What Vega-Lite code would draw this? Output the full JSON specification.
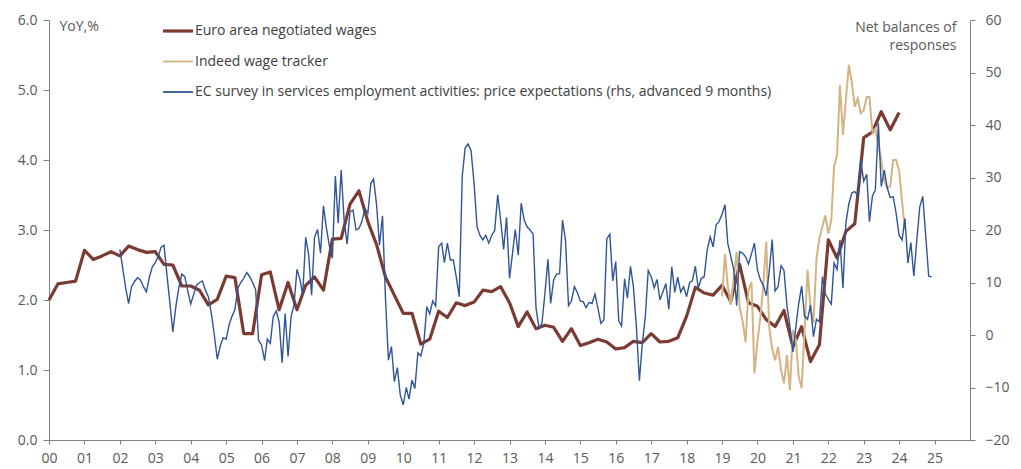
{
"$schema":"https://vega.github.io/schema/vega-lite/v6.json",
"width":921,"height":420,
"autosize":{"type":"none"},
"padding":{"left":49,"top":20,"right":51,"bottom":29},
"config":{"font":"Open Sans","view":{"stroke":null},
 "axis":{"grid":false,"domainColor":"#808080","tickColor":"#808080","labelColor":"#595959","labelFontSize":14,"titleColor":"#595959","titleFontSize":14,"titleFontWeight":"normal","labelFont":"Open Sans","titleFont":"Open Sans"}},
"datasets":{
"nw":[
{"d":"2000-01","v":2.0},{"d":"2000-04","v":2.23},{"d":"2000-07","v":2.25},{"d":"2000-10","v":2.27},
{"d":"2001-01","v":2.71},{"d":"2001-04","v":2.58},{"d":"2001-07","v":2.63},{"d":"2001-10","v":2.69},
{"d":"2002-01","v":2.63},{"d":"2002-04","v":2.77},{"d":"2002-07","v":2.72},{"d":"2002-10","v":2.68},
{"d":"2003-01","v":2.69},{"d":"2003-04","v":2.51},{"d":"2003-07","v":2.50},{"d":"2003-10","v":2.20},
{"d":"2004-01","v":2.20},{"d":"2004-04","v":2.14},{"d":"2004-07","v":1.93},{"d":"2004-10","v":2.01},
{"d":"2005-01","v":2.34},{"d":"2005-04","v":2.32},{"d":"2005-07","v":1.52},{"d":"2005-10","v":1.52},
{"d":"2006-01","v":2.36},{"d":"2006-04","v":2.40},{"d":"2006-07","v":1.86},{"d":"2006-10","v":2.25},
{"d":"2007-01","v":1.86},{"d":"2007-04","v":2.21},{"d":"2007-07","v":2.33},{"d":"2007-10","v":2.14},
{"d":"2008-01","v":2.87},{"d":"2008-04","v":2.88},{"d":"2008-07","v":3.37},{"d":"2008-10","v":3.56},
{"d":"2009-01","v":3.12},{"d":"2009-04","v":2.79},{"d":"2009-07","v":2.33},{"d":"2009-10","v":2.07},
{"d":"2010-01","v":1.81},{"d":"2010-04","v":1.81},{"d":"2010-07","v":1.37},{"d":"2010-10","v":1.44},
{"d":"2011-01","v":1.84},{"d":"2011-04","v":1.75},{"d":"2011-07","v":1.96},{"d":"2011-10","v":1.92},
{"d":"2012-01","v":1.97},{"d":"2012-04","v":2.14},{"d":"2012-07","v":2.12},{"d":"2012-10","v":2.19},
{"d":"2013-01","v":1.96},{"d":"2013-04","v":1.62},{"d":"2013-07","v":1.83},{"d":"2013-10","v":1.59},
{"d":"2014-01","v":1.64},{"d":"2014-04","v":1.61},{"d":"2014-07","v":1.41},{"d":"2014-10","v":1.59},
{"d":"2015-01","v":1.35},{"d":"2015-04","v":1.39},{"d":"2015-07","v":1.44},{"d":"2015-10","v":1.40},
{"d":"2016-01","v":1.30},{"d":"2016-04","v":1.32},{"d":"2016-07","v":1.41},{"d":"2016-10","v":1.39},
{"d":"2017-01","v":1.52},{"d":"2017-04","v":1.40},{"d":"2017-07","v":1.41},{"d":"2017-10","v":1.46},
{"d":"2018-01","v":1.77},{"d":"2018-04","v":2.18},{"d":"2018-07","v":2.10},{"d":"2018-10","v":2.07},
{"d":"2019-01","v":2.21},{"d":"2019-04","v":1.98},{"d":"2019-07","v":2.51},{"d":"2019-10","v":1.96},
{"d":"2020-01","v":1.91},{"d":"2020-04","v":1.72},{"d":"2020-07","v":1.62},{"d":"2020-10","v":1.85},
{"d":"2021-01","v":1.33},{"d":"2021-04","v":1.62},{"d":"2021-07","v":1.12},{"d":"2021-10","v":1.36},
{"d":"2022-01","v":2.86},{"d":"2022-04","v":2.60},{"d":"2022-07","v":2.98},{"d":"2022-10","v":3.09},
{"d":"2023-01","v":4.32},{"d":"2023-04","v":4.40},{"d":"2023-07","v":4.69},{"d":"2023-10","v":4.43},
{"d":"2024-01","v":4.68}
],
"indeed":[
{"d":"2019-01","v":2.05},{"d":"2019-02","v":2.66},{"d":"2019-03","v":2.2},{"d":"2019-04","v":1.93},{"d":"2019-05","v":2.3},{"d":"2019-06","v":2.69},{"d":"2019-07","v":1.9},{"d":"2019-08","v":1.7},{"d":"2019-09","v":1.4},{"d":"2019-10","v":2.14},{"d":"2019-11","v":2.26},{"d":"2019-12","v":0.95},
{"d":"2020-01","v":1.4},{"d":"2020-02","v":1.76},{"d":"2020-03","v":2.2},{"d":"2020-04","v":2.83},{"d":"2020-05","v":1.62},{"d":"2020-06","v":1.3},{"d":"2020-07","v":1.14},{"d":"2020-08","v":1.33},{"d":"2020-09","v":1.0},{"d":"2020-10","v":0.81},{"d":"2020-11","v":1.21},{"d":"2020-12","v":0.71},
{"d":"2021-01","v":1.57},{"d":"2021-02","v":1.43},{"d":"2021-03","v":0.91},{"d":"2021-04","v":0.74},{"d":"2021-05","v":1.57},{"d":"2021-06","v":2.43},{"d":"2021-07","v":1.9},{"d":"2021-08","v":1.67},{"d":"2021-09","v":2.6},{"d":"2021-10","v":2.88},{"d":"2021-11","v":3.05},{"d":"2021-12","v":3.21},
{"d":"2022-01","v":2.95},{"d":"2022-02","v":3.14},{"d":"2022-03","v":3.9},{"d":"2022-04","v":4.07},{"d":"2022-05","v":5.07},{"d":"2022-06","v":4.36},{"d":"2022-07","v":4.86},{"d":"2022-08","v":5.36},{"d":"2022-09","v":5.1},{"d":"2022-10","v":4.76},{"d":"2022-11","v":4.88},{"d":"2022-12","v":4.67},
{"d":"2023-01","v":4.71},{"d":"2023-02","v":4.9},{"d":"2023-03","v":4.9},{"d":"2023-04","v":4.4},{"d":"2023-05","v":4.45},{"d":"2023-06","v":4.2},{"d":"2023-07","v":4.0},{"d":"2023-08","v":3.7},{"d":"2023-09","v":3.6},{"d":"2023-10","v":3.62},{"d":"2023-11","v":4.0},{"d":"2023-12","v":4.0},
{"d":"2024-01","v":3.85},{"d":"2024-02","v":3.4},{"d":"2024-03","v":3.0}
],
"ec":[
{"d":"2002-01","r":16.3},{"d":"2002-02","r":12.5},{"d":"2002-03","r":9.0},{"d":"2002-04","r":6.0},{"d":"2002-05","r":9.2},{"d":"2002-06","r":10.2},{"d":"2002-07","r":10.9},{"d":"2002-08","r":10.5},{"d":"2002-09","r":9.2},{"d":"2002-10","r":8.2},{"d":"2002-11","r":11.0},{"d":"2002-12","r":13.0},
{"d":"2003-01","r":13.8},{"d":"2003-02","r":15.0},{"d":"2003-03","r":16.7},{"d":"2003-04","r":17.1},{"d":"2003-05","r":11.5},{"d":"2003-06","r":6.0},{"d":"2003-07","r":0.6},{"d":"2003-08","r":5.4},{"d":"2003-09","r":9.0},{"d":"2003-10","r":11.6},{"d":"2003-11","r":11.1},{"d":"2003-12","r":8.5},
{"d":"2004-01","r":5.9},{"d":"2004-02","r":7.7},{"d":"2004-03","r":9.5},{"d":"2004-04","r":10.0},{"d":"2004-05","r":10.3},{"d":"2004-06","r":8.5},{"d":"2004-07","r":7.3},{"d":"2004-08","r":4.1},{"d":"2004-09","r":0.0},{"d":"2004-10","r":-4.6},{"d":"2004-11","r":-2.1},{"d":"2004-12","r":-0.5},
{"d":"2005-01","r":-0.8},{"d":"2005-02","r":2.0},{"d":"2005-03","r":3.5},{"d":"2005-04","r":4.8},{"d":"2005-05","r":8.9},{"d":"2005-06","r":10.0},{"d":"2005-07","r":10.8},{"d":"2005-08","r":11.9},{"d":"2005-09","r":11.1},{"d":"2005-10","r":10.0},{"d":"2005-11","r":8.6},{"d":"2005-12","r":-1.0},
{"d":"2006-01","r":-1.9},{"d":"2006-02","r":-4.9},{"d":"2006-03","r":-0.8},{"d":"2006-04","r":-1.6},{"d":"2006-05","r":3.5},{"d":"2006-06","r":4.6},{"d":"2006-07","r":2.5},{"d":"2006-08","r":-5.3},{"d":"2006-09","r":4.1},{"d":"2006-10","r":-4.1},{"d":"2006-11","r":3.5},{"d":"2006-12","r":5.7},
{"d":"2007-01","r":12.5},{"d":"2007-02","r":10.6},{"d":"2007-03","r":7.6},{"d":"2007-04","r":18.6},{"d":"2007-05","r":15.4},{"d":"2007-06","r":7.6},{"d":"2007-07","r":18.6},{"d":"2007-08","r":20.1},{"d":"2007-09","r":15.6},{"d":"2007-10","r":24.6},{"d":"2007-11","r":20.3},{"d":"2007-12","r":17.0},
{"d":"2008-01","r":14.6},{"d":"2008-02","r":30.3},{"d":"2008-03","r":21.3},{"d":"2008-04","r":31.4},{"d":"2008-05","r":21.9},{"d":"2008-06","r":17.3},{"d":"2008-07","r":23.5},{"d":"2008-08","r":23.8},{"d":"2008-09","r":20.0},{"d":"2008-10","r":20.3},{"d":"2008-11","r":21.6},{"d":"2008-12","r":24.1},
{"d":"2009-01","r":23.2},{"d":"2009-02","r":28.9},{"d":"2009-03","r":29.7},{"d":"2009-04","r":24.8},{"d":"2009-05","r":17.1},{"d":"2009-06","r":22.7},{"d":"2009-07","r":7.3},{"d":"2009-08","r":-4.8},{"d":"2009-09","r":-2.2},{"d":"2009-10","r":-8.9},{"d":"2009-11","r":-6.2},{"d":"2009-12","r":-11.4},
{"d":"2010-01","r":-13.3},{"d":"2010-02","r":-10.0},{"d":"2010-03","r":-12.2},{"d":"2010-04","r":-8.6},{"d":"2010-05","r":-10.2},{"d":"2010-06","r":-3.4},{"d":"2010-07","r":-4.0},{"d":"2010-08","r":-1.6},{"d":"2010-09","r":5.4},{"d":"2010-10","r":4.0},{"d":"2010-11","r":6.5},{"d":"2010-12","r":5.5},
{"d":"2011-01","r":16.8},{"d":"2011-02","r":17.5},{"d":"2011-03","r":13.8},{"d":"2011-04","r":17.5},{"d":"2011-05","r":14.3},{"d":"2011-06","r":14.3},{"d":"2011-07","r":11.1},{"d":"2011-08","r":7.3},{"d":"2011-09","r":30.2},{"d":"2011-10","r":35.6},{"d":"2011-11","r":36.4},{"d":"2011-12","r":35.1},
{"d":"2012-01","r":28.9},{"d":"2012-02","r":20.6},{"d":"2012-03","r":19.0},{"d":"2012-04","r":18.1},{"d":"2012-05","r":19.0},{"d":"2012-06","r":17.5},{"d":"2012-07","r":19.0},{"d":"2012-08","r":19.9},{"d":"2012-09","r":26.7},{"d":"2012-10","r":21.9},{"d":"2012-11","r":16.3},{"d":"2012-12","r":22.4},
{"d":"2013-01","r":10.8},{"d":"2013-02","r":15.6},{"d":"2013-03","r":20.1},{"d":"2013-04","r":15.2},{"d":"2013-05","r":25.1},{"d":"2013-06","r":21.9},{"d":"2013-07","r":20.6},{"d":"2013-08","r":20.0},{"d":"2013-09","r":19.2},{"d":"2013-10","r":5.1},{"d":"2013-11","r":1.3},{"d":"2013-12","r":2.2},
{"d":"2014-01","r":8.0},{"d":"2014-02","r":14.4},{"d":"2014-03","r":6.0},{"d":"2014-04","r":10.5},{"d":"2014-05","r":11.6},{"d":"2014-06","r":11.7},{"d":"2014-07","r":21.9},{"d":"2014-08","r":18.1},{"d":"2014-09","r":5.6},{"d":"2014-10","r":6.5},{"d":"2014-11","r":9.2},{"d":"2014-12","r":8.1},
{"d":"2015-01","r":6.5},{"d":"2015-02","r":6.3},{"d":"2015-03","r":5.2},{"d":"2015-04","r":6.2},{"d":"2015-05","r":6.0},{"d":"2015-06","r":7.8},{"d":"2015-07","r":5.1},{"d":"2015-08","r":2.2},{"d":"2015-09","r":2.9},{"d":"2015-10","r":18.3},{"d":"2015-11","r":19.2},{"d":"2015-12","r":10.3},
{"d":"2016-01","r":14.0},{"d":"2016-02","r":2.7},{"d":"2016-03","r":1.7},{"d":"2016-04","r":10.7},{"d":"2016-05","r":7.0},{"d":"2016-06","r":13.1},{"d":"2016-07","r":9.2},{"d":"2016-08","r":1.6},{"d":"2016-09","r":-8.7},{"d":"2016-10","r":-1.6},{"d":"2016-11","r":3.5},{"d":"2016-12","r":12.3},
{"d":"2017-01","r":11.1},{"d":"2017-02","r":9.0},{"d":"2017-03","r":10.6},{"d":"2017-04","r":6.7},{"d":"2017-05","r":8.2},{"d":"2017-06","r":9.8},{"d":"2017-07","r":4.9},{"d":"2017-08","r":13.0},{"d":"2017-09","r":8.1},{"d":"2017-10","r":11.0},{"d":"2017-11","r":8.2},{"d":"2017-12","r":9.2},
{"d":"2018-01","r":7.3},{"d":"2018-02","r":10.0},{"d":"2018-03","r":10.3},{"d":"2018-04","r":13.1},{"d":"2018-05","r":8.9},{"d":"2018-06","r":10.8},{"d":"2018-07","r":11.1},{"d":"2018-08","r":16.2},{"d":"2018-09","r":18.7},{"d":"2018-10","r":16.8},{"d":"2018-11","r":21.0},{"d":"2018-12","r":21.6},
{"d":"2019-01","r":23.0},{"d":"2019-02","r":24.8},{"d":"2019-03","r":17.5},{"d":"2019-04","r":15.0},{"d":"2019-05","r":12.5},{"d":"2019-06","r":5.6},{"d":"2019-07","r":15.9},{"d":"2019-08","r":15.6},{"d":"2019-09","r":14.9},{"d":"2019-10","r":13.5},{"d":"2019-11","r":15.5},{"d":"2019-12","r":17.5},
{"d":"2020-01","r":12.4},{"d":"2020-02","r":10.5},{"d":"2020-03","r":9.5},{"d":"2020-04","r":7.5},{"d":"2020-05","r":12.0},{"d":"2020-06","r":18.2},{"d":"2020-07","r":8.4},{"d":"2020-08","r":9.2},{"d":"2020-09","r":13.2},{"d":"2020-10","r":12.3},{"d":"2020-11","r":5.5},{"d":"2020-12","r":1.7},
{"d":"2021-01","r":-3.2},{"d":"2021-02","r":1.6},{"d":"2021-03","r":5.9},{"d":"2021-04","r":9.3},{"d":"2021-05","r":3.6},{"d":"2021-06","r":3.0},{"d":"2021-07","r":5.7},{"d":"2021-08","r":-0.3},{"d":"2021-09","r":3.0},{"d":"2021-10","r":2.5},{"d":"2021-11","r":11.1},{"d":"2021-12","r":7.8},
{"d":"2022-01","r":6.8},{"d":"2022-02","r":5.9},{"d":"2022-03","r":13.7},{"d":"2022-04","r":12.5},{"d":"2022-05","r":18.1},{"d":"2022-06","r":8.9},{"d":"2022-07","r":21.3},{"d":"2022-08","r":25.0},{"d":"2022-09","r":27.1},{"d":"2022-10","r":27.3},{"d":"2022-11","r":26.5},{"d":"2022-12","r":33.3},
{"d":"2023-01","r":29.3},{"d":"2023-02","r":30.6},{"d":"2023-03","r":21.6},{"d":"2023-04","r":26.5},{"d":"2023-05","r":27.6},{"d":"2023-06","r":40.3},{"d":"2023-07","r":28.3},{"d":"2023-08","r":31.4},{"d":"2023-09","r":28.0},{"d":"2023-10","r":26.2},{"d":"2023-11","r":26.3},{"d":"2023-12","r":23.2},
{"d":"2024-01","r":19.0},{"d":"2024-02","r":18.1},{"d":"2024-03","r":22.2},{"d":"2024-04","r":13.7},{"d":"2024-05","r":17.6},{"d":"2024-06","r":11.2},{"d":"2024-07","r":18.0},{"d":"2024-08","r":24.4},{"d":"2024-09","r":26.4},{"d":"2024-10","r":19.0},{"d":"2024-11","r":11.2},{"d":"2024-12","r":11.1}
]
},
"encoding":{
 "x":{"field":"d","type":"temporal",
  "scale":{"type":"utc","domain":[{"year":2000,"month":1,"date":1,"utc":true},{"year":2026,"month":1,"date":1,"utc":true}]},
  "axis":{"title":null,"labelExpr":"utcFormat(datum.value, '%y')","tickSize":4,"labelPadding":7,"labelFlush":false,"labelOverlap":false,
   "values":[{"year":2000,"utc":true},{"year":2001,"utc":true},{"year":2002,"utc":true},{"year":2003,"utc":true},{"year":2004,"utc":true},{"year":2005,"utc":true},{"year":2006,"utc":true},{"year":2007,"utc":true},{"year":2008,"utc":true},{"year":2009,"utc":true},{"year":2010,"utc":true},{"year":2011,"utc":true},{"year":2012,"utc":true},{"year":2013,"utc":true},{"year":2014,"utc":true},{"year":2015,"utc":true},{"year":2016,"utc":true},{"year":2017,"utc":true},{"year":2018,"utc":true},{"year":2019,"utc":true},{"year":2020,"utc":true},{"year":2021,"utc":true},{"year":2022,"utc":true},{"year":2023,"utc":true},{"year":2024,"utc":true},{"year":2025,"utc":true}]}}
},
"layer":[
 {"layer":[
  {"data":{"name":"nw"},"mark":{"type":"line","strokeWidth":3.2,"strokeJoin":"round"},
   "encoding":{
    "y":{"field":"v","type":"quantitative","scale":{"domain":[0,6]},
     "axis":{"values":[0,1,2,3,4,5,6],"format":".1f","tickSize":6,"labelPadding":6,"title":"YoY,%","titleAngle":0,"titleAlign":"left","titleBaseline":"alphabetic","titleX":10,"titleY":10}},
    "color":{"datum":"Euro area negotiated wages","type":"nominal",
     "scale":{"domain":["Euro area negotiated wages","Indeed wage tracker","EC survey in services employment activities: price expectations (rhs, advanced 9 months)"],"range":["#7B3B32","#D4B483","#2F5597"]},
     "legend":{"title":null,"orient":"none","legendX":122,"legendY":4,"padding":0,"symbolType":"stroke","symbolSize":900,"symbolStrokeWidth":2,"labelFontSize":14,"labelColor":"#404040","labelOffset":10,"rowPadding":16.5,"labelLimit":800,
      "encode":{"symbols":{"update":{"strokeWidth":{"signal":"datum.value === 'Euro area negotiated wages' ? 3.2 : 1.8"}}}}}}}},
  {"data":{"name":"indeed"},"mark":{"type":"line","strokeWidth":2},
   "encoding":{"y":{"field":"v","type":"quantitative"},"color":{"datum":"Indeed wage tracker","type":"nominal"}}}
 ]},
 {"data":{"name":"ec"},"mark":{"type":"line","strokeWidth":1.4},
  "encoding":{
   "y":{"field":"r","type":"quantitative","scale":{"domain":[-20,60]},
    "axis":{"orient":"right","values":[-20,-10,0,10,20,30,40,50,60],"tickSize":5,"labelPadding":10,"title":["Net balances of","responses"],"titleAngle":0,"titleAlign":"right","titleBaseline":"alphabetic","titleX":-14,"titleY":11,"titleLineHeight":18.5}},
   "color":{"datum":"EC survey in services employment activities: price expectations (rhs, advanced 9 months)","type":"nominal"}}}
],
"resolve":{"scale":{"y":"independent"}}
}
